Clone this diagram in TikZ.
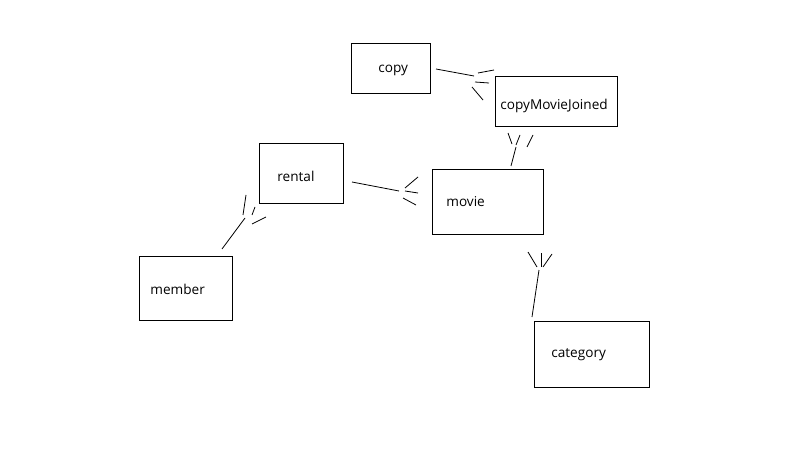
\documentclass[tikz,border=0pt]{standalone}
\usepackage{fontspec}
\setmainfont{Open Sans}

\begin{document}
\begin{tikzpicture}[x=1pt, y=-1pt, line width=.8pt,
    box/.style={draw, rectangle, inner sep=0pt},
    tablename/.style={anchor=west, inner sep=0pt, font=\fontsize{13.6}{16}\selectfont}]
      \fill [white] (0,0) rectangle (790,476);
      \useasboundingbox (0,0) rectangle (790,476);
      % tables
      \node [box, minimum width=79pt, minimum height=50pt] (copy) at (390.5,68) {};
      \node [box, minimum width=122pt, minimum height=50pt] (cmj) at (556,101) {};
      \node [box, minimum width=84pt, minimum height=60pt] (rental) at (301,173) {};
      \node [box, minimum width=111pt, minimum height=65pt] (movie) at (487.5,201.5) {};
      \node [box, minimum width=93pt, minimum height=64pt] (member) at (185.5,288) {};
      \node [box, minimum width=115pt, minimum height=66pt] (category) at (591.5,354) {};
      \node [tablename] (copytxt) at (378,70) {copy};
      \node [tablename] (cmjtxt) at (500,106) {copyMovieJoined};
      \node [tablename] (rentaltxt) at (277,176) {rental};
      \node [tablename] (movietxt) at (446,202) {movie};
      \node [tablename] (membertxt) at (150,289) {member};
      \node [tablename] (categorytxt) at (551,355) {category};
      % copy -- copyMovieJoined
      \coordinate (cc1) at (436,69);  \coordinate (cc2) at (474,76);
      \coordinate (cc3) at (478,73);  \coordinate (cc4) at (494,70);
      \coordinate (cc5) at (475,82);  \coordinate (cc6) at (489,83);
      \coordinate (cc7) at (472,87);  \coordinate (cc8) at (483,100);
      \draw (cc1) to (cc2);
      \draw (cc3) to (cc4);
      \draw (cc5) to (cc6);
      \draw (cc7) to (cc8);
      % copyMovieJoined -- movie
      \coordinate (cm1) at (516,147); \coordinate (cm2) at (511,166);
      \coordinate (cm3) at (508,133); \coordinate (cm4) at (512,144);
      \coordinate (cm5) at (520,135); \coordinate (cm6) at (516,145);
      \coordinate (cm7) at (533,135); \coordinate (cm8) at (527,147);
      \draw (cm1) to (cm2);
      \draw (cm3) to (cm4);
      \draw (cm5) to (cm6);
      \draw (cm7) to (cm8);
      % rental -- movie
      \coordinate (rm1) at (352,182); \coordinate (rm2) at (399,191);
      \coordinate (rm3) at (405,188); \coordinate (rm4) at (418,177);
      \coordinate (rm5) at (405,191); \coordinate (rm6) at (418,193);
      \coordinate (rm7) at (403,198); \coordinate (rm8) at (416,205);
      \draw (rm1) to (rm2);
      \draw (rm3) to (rm4);
      \draw (rm5) to (rm6);
      \draw (rm7) to (rm8);
      % member -- rental
      \coordinate (mr1) at (222,249); \coordinate (mr2) at (245,218);
      \coordinate (mr3) at (246,195); \coordinate (mr4) at (243,215);
      \coordinate (mr5) at (255,207); \coordinate (mr6) at (252,215);
      \coordinate (mr7) at (266,217); \coordinate (mr8) at (252,224);
      \draw (mr1) to (mr2);
      \draw (mr3) to (mr4);
      \draw (mr5) to (mr6);
      \draw (mr7) to (mr8);
      % movie -- category
      \coordinate (mc1) at (532,317); \coordinate (mc2) at (539,270);
      \coordinate (mc3) at (528,252); \coordinate (mc4) at (537,267);
      \coordinate (mc5) at (541,253); \coordinate (mc6) at (541,267);
      \coordinate (mc7) at (552,254); \coordinate (mc8) at (543,267);
      \draw (mc1) to (mc2);
      \draw (mc3) to (mc4);
      \draw (mc5) to (mc6);
      \draw (mc7) to (mc8);
    \end{tikzpicture}
\end{document}
